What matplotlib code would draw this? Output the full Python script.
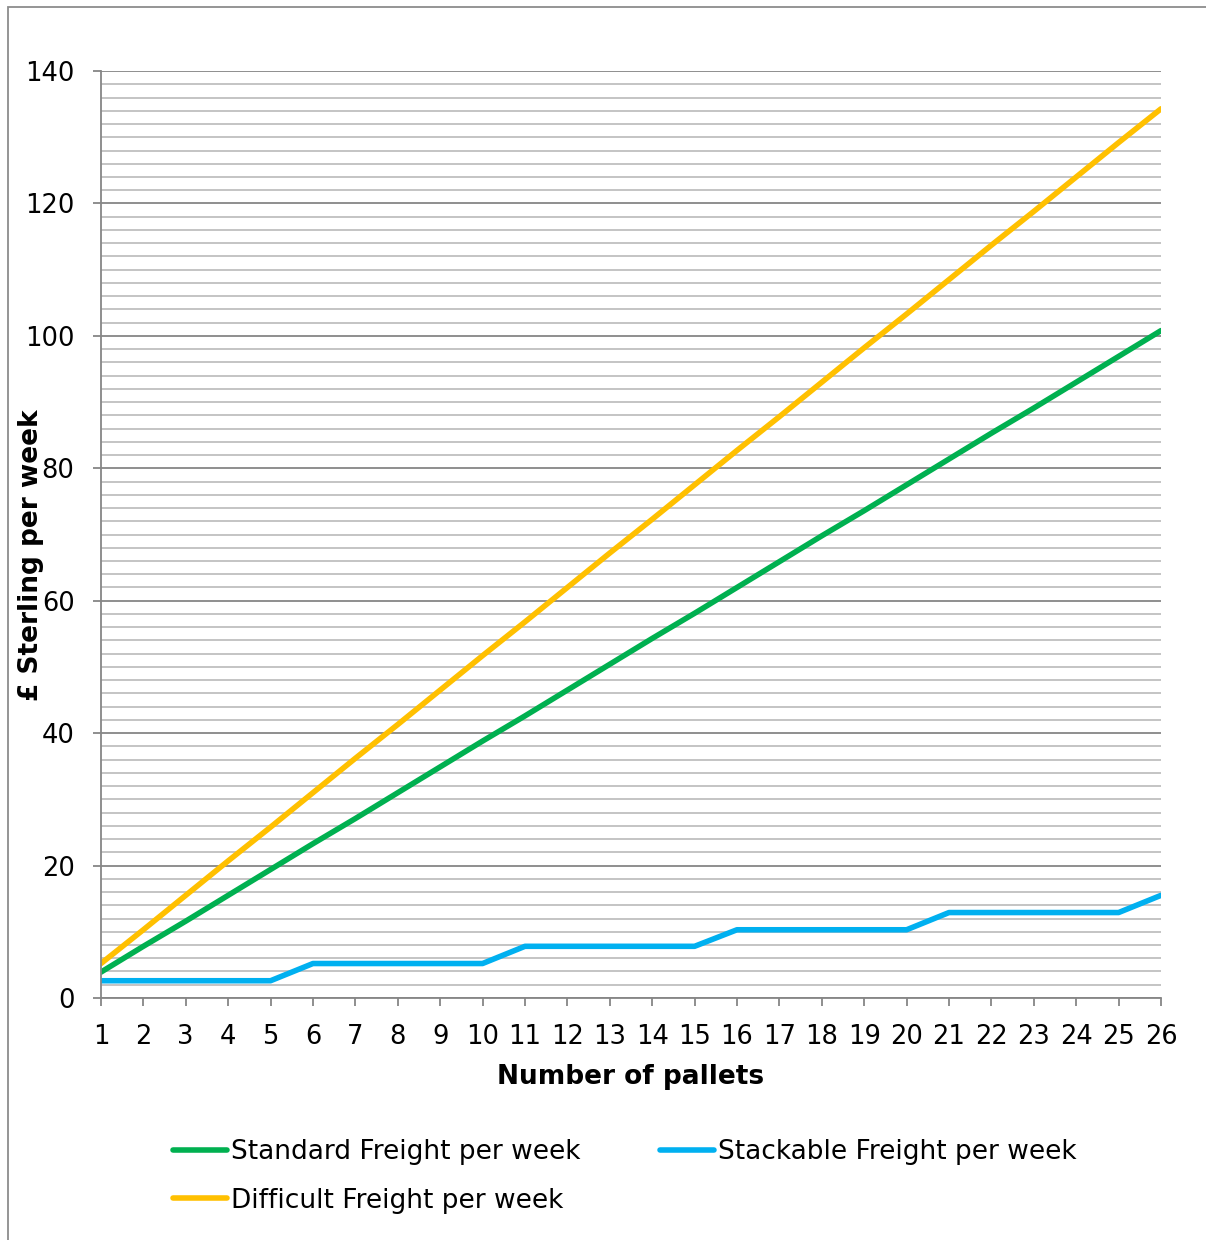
import numpy as np
import matplotlib
matplotlib.use("Agg")
import matplotlib.pyplot as plt
from matplotlib.patches import Rectangle
from matplotlib.ticker import MultipleLocator

pallets = list(range(1, 27))

# weekly cost in pounds for each freight type
standard = [3.9, 7.8, 11.6, 15.5, 19.4, 23.3, 27.1, 31.0, 34.9, 38.8,
            42.6, 46.5, 50.4, 54.3, 58.1, 62.0, 65.9, 69.8, 73.6, 77.5,
            81.4, 85.3, 89.1, 93.0, 96.9, 100.8]
difficult = [5.2, 10.3, 15.5, 20.7, 25.8, 31.0, 36.2, 41.3, 46.5, 51.7,
             56.8, 62.0, 67.2, 72.3, 77.5, 82.7, 87.8, 93.0, 98.2, 103.3,
             108.5, 113.7, 118.8, 124.0, 129.2, 134.3]
stackable = [2.6, 2.6, 2.6, 2.6, 2.6, 5.2, 5.2, 5.2, 5.2, 5.2,
             7.8, 7.8, 7.8, 7.8, 7.8, 10.3, 10.3, 10.3, 10.3, 10.3,
             12.9, 12.9, 12.9, 12.9, 12.9, 15.5]

plt.rcParams["font.family"] = "DejaVu Sans"
fs = 19

fig = plt.figure(figsize=(12.06, 12.4), dpi=100)
ax = fig.add_axes([0.0837, 0.1952, 0.879, 0.7475])

# outer chart frame
fig.patches.append(Rectangle((8 / 1206, -0.05), 1.1, 1 - 7 / 1240 + 0.05,
                             transform=fig.transFigure, fill=False,
                             edgecolor="#8c8c8c", linewidth=1.3))

l1, = ax.plot(pallets, standard, color="#00B050", lw=4, solid_capstyle="round",
              label="Standard Freight per week")
l2, = ax.plot(pallets, stackable, color="#00B0F0", lw=4, solid_capstyle="round",
              label="Stackable Freight per week")
l3, = ax.plot(pallets, difficult, color="#FFC000", lw=4, solid_capstyle="round",
              label="Difficult Freight per week")

ax.set_xlim(1, 26)
ax.set_ylim(0, 140)
ax.set_xticks(pallets)
ax.yaxis.set_major_locator(MultipleLocator(20))
ax.yaxis.set_minor_locator(MultipleLocator(2))
ax.grid(which="major", axis="y", color="#868686", lw=1.3)
ax.grid(which="minor", axis="y", color="#bfbfbf", lw=1.3)
ax.set_axisbelow(True)

for s in ["top", "right"]:
    ax.spines[s].set_visible(False)
for s in ["left", "bottom"]:
    ax.spines[s].set_color("#868686")
    ax.spines[s].set_linewidth(1.3)

ax.tick_params(axis="both", which="major", labelsize=18.5, color="#868686",
               width=1.3, length=6, direction="out")
ax.tick_params(axis="y", which="minor", length=0)
ax.tick_params(axis="x", pad=13)
ax.tick_params(axis="y", pad=13)

ax.set_xlabel("Number of pallets", fontsize=fs, fontweight="bold", labelpad=10)
ax.set_ylabel("£ Sterling per week", fontsize=fs, fontweight="bold")
ax.yaxis.set_label_coords(-0.054, 0.478)

fig.legend(handles=[l1, l3, l2], ncol=2, frameon=False, fontsize=fs,
           loc="upper left", bbox_to_anchor=(0.124, 0.1005),
           handlelength=2.05, handletextpad=0.15, columnspacing=3.0,
           labelspacing=0.85)

fig.savefig("out.png", dpi=100)
